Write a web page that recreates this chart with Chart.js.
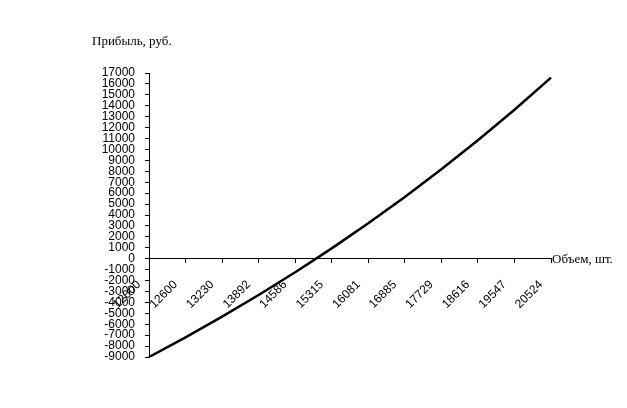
<!DOCTYPE html>
<html>
<head>
<meta charset="utf-8">
<script src="https://cdn.jsdelivr.net/npm/chart.js@4/dist/chart.umd.min.js"></script>
<style>
	body { margin: 0; background: #fff; }
	canvas { display: block; }
</style>
</head>
<body>
<canvas id="myChart" width="627" height="408"></canvas>
<script>
// volume, pcs (category labels)
const volumes = [
	"12000", "12600", "13230", "13892", "14586", "15315",
	"16081", "16885", "17729", "18616", "19547", "20524",
];

// profit, rub
const profit = [
	-9000, -7200, -5310, -3324, -1242, 945,
	3243, 5655, 8187, 10848, 13641, 16572,
];

const yMin = -9000;
const yMax = 17000;
const yStep = 1000;

const yTitle = "Прибыль, руб.";
const xTitle = "Объем, шт.";

// axis captions drawn next to the axes, not rotated
const axisCaptions = {
	id: "axisCaptions",
	afterDraw(chart) {
		const ctx = chart.ctx;
		const area = chart.chartArea;
		const zeroY = chart.scales.y.getPixelForValue(0);
		ctx.save();
		ctx.fillStyle = "#000";
		ctx.font = '13px "Liberation Serif"';
		ctx.textAlign = "left";
		ctx.textBaseline = "alphabetic";
		ctx.fillText(yTitle, area.left - 57, area.top - 28);
		ctx.fillText(xTitle, area.right + 1, zeroY + 4);
		ctx.restore();
	},
};

new Chart("myChart", {
	type: "line",
	data: {
		labels: volumes,
		datasets: [
			{
				data: profit,
				borderColor: "#000",
				borderWidth: 2.5,
				pointRadius: 0,
				fill: false,
			},
		],
	},
	options: {
		responsive: false,
		animation: false,
		layout: { padding: { left: 0, top: 73, right: 76, bottom: 51 } },
		plugins: {
			legend: { display: false },
			tooltip: { enabled: false },
		},
		scales: {
			x: {
				position: { y: 0 },
				offset: false,
				grid: {
					drawOnChartArea: false,
					drawTicks: true,
					tickLength: 4,
					color: "#000",
				},
				border: { color: "#000", width: 1 },
				ticks: {
					autoSkip: false,
					minRotation: 45,
					maxRotation: 45,
					padding: 15,
					labelOffset: -10,
					color: "#000",
					font: { family: '"Liberation Sans"', size: 12 },
				},
			},
			y: {
				min: yMin,
				max: yMax,
				afterFit(scale) {
					scale.width = 149;
				},
				grid: {
					drawOnChartArea: false,
					drawTicks: true,
					tickLength: 4,
					color: "#000",
				},
				border: { color: "#000", width: 1 },
				ticks: {
					stepSize: yStep,
					autoSkip: false,
					padding: 10,
					color: "#000",
					font: { family: '"Liberation Sans"', size: 12, lineHeight: 1 },
					callback: (value) => String(value),
				},
			},
		},
	},
	plugins: [axisCaptions],
});
</script>
</body>
</html>
